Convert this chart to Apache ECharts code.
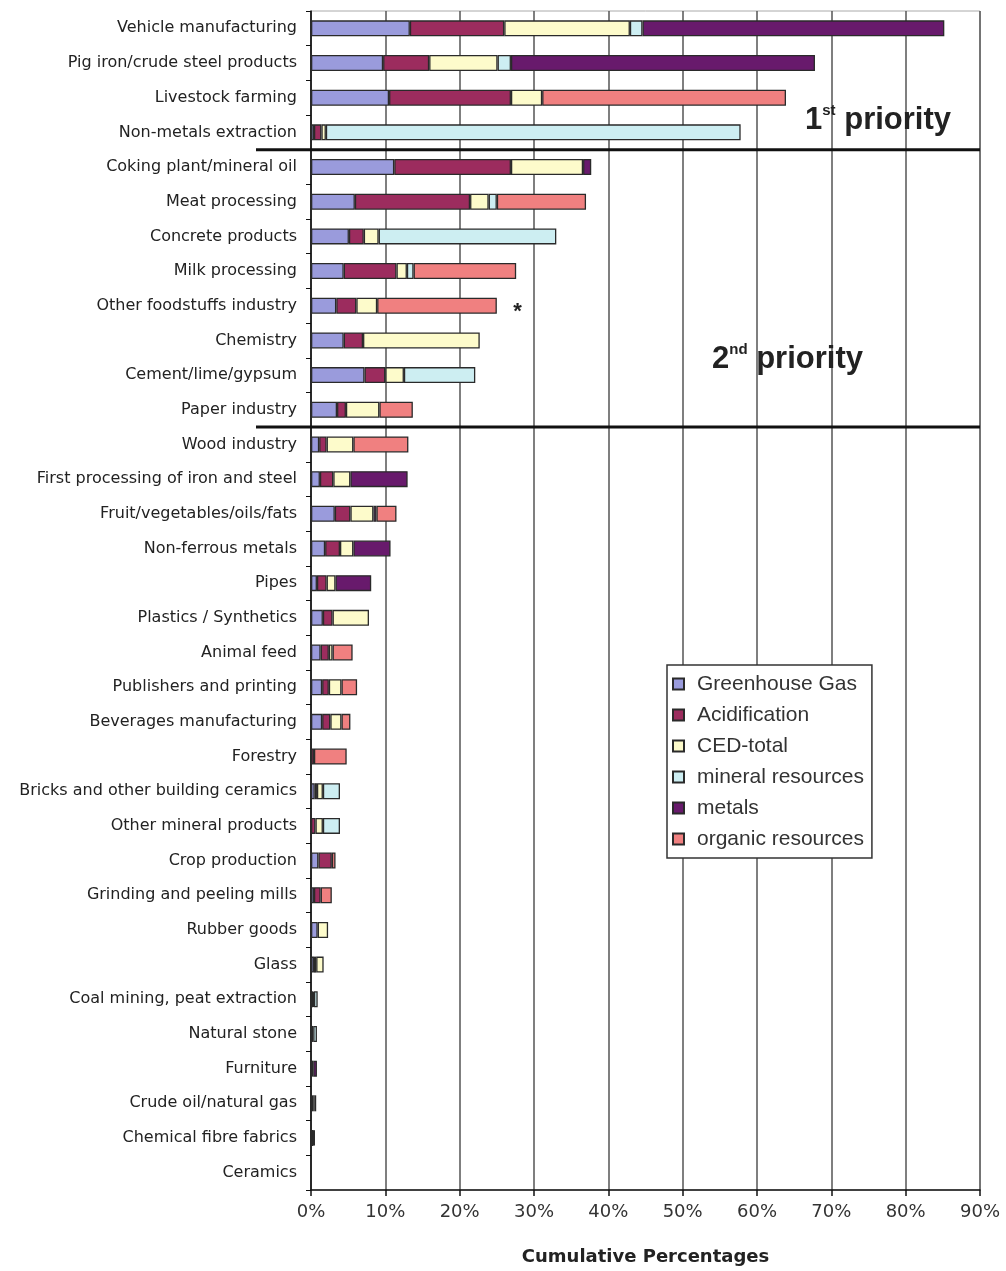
<!DOCTYPE html>
<html>
<head>
<meta charset="utf-8">
<script src="https://cdn.jsdelivr.net/npm/echarts@6/dist/echarts.min.js"></script>
<style>
  html, body { margin: 0; padding: 0; background: #fff; }
  #main { width: 1006px; height: 1271px; }
</style>
</head>
<body>
<div id="main"></div>
<script>
// sectors, top to bottom
var categories = [
    "Vehicle manufacturing", "Pig iron/crude steel products", "Livestock farming", "Non-metals extraction",
    "Coking plant/mineral oil", "Meat processing", "Concrete products", "Milk processing",
    "Other foodstuffs industry", "Chemistry", "Cement/lime/gypsum", "Paper industry",
    "Wood industry", "First processing of iron and steel", "Fruit/vegetables/oils/fats", "Non-ferrous metals",
    "Pipes", "Plastics / Synthetics", "Animal feed", "Publishers and printing",
    "Beverages manufacturing", "Forestry", "Bricks and other building ceramics", "Other mineral products",
    "Crop production", "Grinding and peeling mills", "Rubber goods", "Glass",
    "Coal mining, peat extraction", "Natural stone", "Furniture", "Crude oil/natural gas",
    "Chemical fibre fabrics", "Ceramics"
];

// percentages
var greenhouse = [13.3, 9.7, 10.5, 0.4, 11.2, 5.9, 5.1, 4.4, 3.4, 4.4, 7.2, 3.5, 1.1, 1.2, 3.2, 1.9, 0.8, 1.6, 1.3, 1.5, 1.5, 0, 0.5, 0, 1.0, 0.4, 0.9, 0.4, 0.3, 0, 0, 0.1, 0.1, 0];
var acidification = [12.7, 6.2, 16.4, 1.0, 15.7, 15.5, 2.0, 7.1, 2.7, 2.6, 2.8, 1.2, 1.0, 1.8, 2.1, 2.0, 1.3, 1.3, 1.1, 0.9, 1.1, 0.4, 0.3, 0.6, 1.8, 0.9, 0, 0.3, 0.1, 0, 0.3, 0.2, 0.2, 0];
var cedTotal = [16.9, 9.2, 4.2, 0.6, 9.7, 2.5, 2.0, 1.4, 2.8, 15.7, 2.5, 4.5, 3.6, 2.3, 3.1, 1.8, 1.2, 4.9, 0.5, 1.7, 1.5, 0, 0.8, 1.0, 0, 0, 1.4, 1.0, 0, 0.3, 0, 0.2, 0.1, 0];
var mineral = [1.7, 1.8, 0, 55.8, 0, 1.1, 23.9, 0.9, 0, 0, 9.6, 0, 0, 0, 0, 0, 0, 0, 0, 0, 0, 0, 2.3, 2.3, 0, 0, 0, 0, 0.5, 0.5, 0, 0, 0, 0];
var metals = [40.6, 40.9, 0, 0, 1.1, 0, 0, 0, 0, 0, 0, 0, 0, 7.7, 0.4, 5.0, 4.8, 0, 0, 0, 0, 0, 0, 0, 0, 0, 0, 0, 0, 0, 0.5, 0.2, 0.1, 0];
var organic = [0, 0, 32.8, 0, 0, 12.0, 0, 13.8, 16.1, 0, 0, 4.5, 7.4, 0, 2.7, 0, 0, 0, 2.7, 2.1, 1.2, 4.4, 0, 0, 0.5, 1.5, 0, 0, 0, 0, 0, 0, 0, 0];

var seriesNames = ["Greenhouse Gas", "Acidification", "CED-total", "mineral resources", "metals", "organic resources"];
var seriesData = [greenhouse, acidification, cedTotal, mineral, metals, organic];
var seriesColors = ["#9a9bdc", "#9c2c5e", "#fdfbcb", "#cdeef2", "#681a6c", "#f08080"];

var chart = echarts.init(document.getElementById("main"));

var series = [];
for (var i = 0; i < seriesNames.length; i++) {
    series.push({
        name: seriesNames[i],
        type: "bar",
        stack: "total",
        barWidth: 16,
        data: seriesData[i].map(function (v) { return v === 0 ? null : v; }),
        itemStyle: { color: seriesColors[i], borderColor: "#2a2a2a", borderWidth: 1.3 },
        emphasis: { disabled: true }
    });
}

chart.setOption({
    animation: false,
    backgroundColor: "#fff",
    grid: {
        left: 311, right: 26, top: 11, bottom: 78,
        show: true, borderColor: "#aaa", borderWidth: 1
    },
    legend: {
        orient: "vertical",
        left: 667, top: 665,
        padding: [8, 8, 8, 5],
        backgroundColor: "#fff",
        borderColor: "#333", borderWidth: 1.5,
        icon: "rect",
        itemWidth: 11, itemHeight: 11,
        itemGap: 9,
        textStyle: { fontFamily: "Liberation Sans", fontSize: 21, color: "#333", lineHeight: 22, padding: [0, 0, 0, 8] },
        data: seriesNames
    },
    xAxis: {
        type: "value",
        min: 0, max: 90, interval: 10,
        name: "Cumulative Percentages",
        nameLocation: "middle",
        nameGap: 58,
        nameTextStyle: { fontFamily: "DejaVu Sans", fontWeight: "bold", fontSize: 18, color: "#222" },
        axisLine: { show: true, lineStyle: { color: "#111", width: 1.5 } },
        axisTick: { show: true, length: 6, lineStyle: { color: "#111", width: 1.5 } },
        axisLabel: { formatter: "{value}%", margin: 13, fontFamily: "DejaVu Sans", fontSize: 18, color: "#333" },
        splitLine: { show: true, lineStyle: { color: "#555", width: 1.5 } }
    },
    yAxis: {
        type: "category",
        inverse: true,
        data: categories,
        axisLine: { show: true, lineStyle: { color: "#111", width: 1.5 } },
        axisTick: { show: true, length: 5, lineStyle: { color: "#111" } },
        axisLabel: { margin: 14, fontFamily: "DejaVu Sans", fontSize: 16, color: "#222", interval: 0 },
        splitLine: { show: false }
    },
    series: series
});

// priority separators and annotations, placed from the axes
var rowY = function (idx) { return chart.convertToPixel({ yAxisIndex: 0 }, categories[idx]); };
var x90 = chart.convertToPixel({ xAxisIndex: 0 }, 90);
var sep1 = (rowY(3) + rowY(4)) / 2;
var sep2 = (rowY(11) + rowY(12)) / 2;
var starX = chart.convertToPixel({ xAxisIndex: 0 }, 27.8);

var priorityRich = {
    n: { fontFamily: "Liberation Sans", fontWeight: "bold", fontSize: 31, lineHeight: 34, fill: "#222" },
    s: { fontFamily: "Liberation Sans", fontWeight: "bold", fontSize: 15, lineHeight: 16, fill: "#222", verticalAlign: "top" }
};

chart.setOption({
    graphic: [
        { type: "line", z: 100, shape: { x1: 256, y1: sep1, x2: x90, y2: sep1 }, style: { stroke: "#111", lineWidth: 3 } },
        { type: "line", z: 100, shape: { x1: 256, y1: sep2, x2: x90, y2: sep2 }, style: { stroke: "#111", lineWidth: 3 } },
        { type: "text", z: 100, x: 805, y: 103, style: { text: "{n|1}{s|st}{n| priority}", rich: priorityRich, textVerticalAlign: "top" } },
        { type: "text", z: 100, x: 712, y: 342, style: { text: "{n|2}{s|nd}{n| priority}", rich: priorityRich, textVerticalAlign: "top" } },
        { type: "text", z: 100, x: starX, y: rowY(8) + 6, style: { text: "*", font: "bold 22px Liberation Sans", fill: "#222", textAlign: "center", textVerticalAlign: "middle" } }
    ]
});
</script>
</body>
</html>
